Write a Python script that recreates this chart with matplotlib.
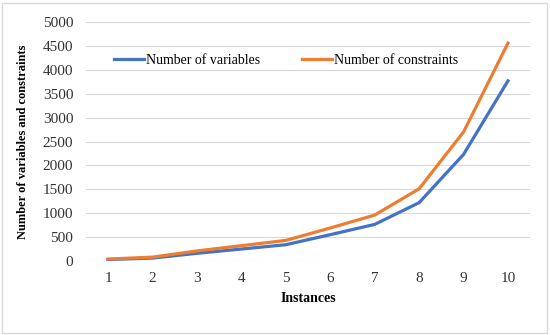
import matplotlib.pyplot as plt
from matplotlib.patches import Rectangle

plt.rcParams['font.family'] = ['Liberation Serif', 'DejaVu Serif']

instances = [1, 2, 3, 4, 5, 6, 7, 8, 9, 10]
variables = [30, 60, 160, 250, 340, 550, 765, 1220, 2230, 3770]
constraints = [40, 80, 210, 320, 430, 690, 960, 1510, 2700, 4560]

fig = plt.figure(figsize=(5.5, 3.35), dpi=100)
ax = fig.add_axes([0.156, 0.221, 0.808, 0.713])

ax.plot(instances, variables, color='#4472C4', linewidth=2.3, label='Number of variables')
ax.plot(instances, constraints, color='#ED7D31', linewidth=2.3, label='Number of constraints')

ax.set_xlim(0.5, 10.5)
ax.set_ylim(0, 5000)
ax.set_xticks(instances)
ax.set_yticks(range(0, 5001, 500))
ax.grid(axis='y', color='#D9D9D9', linewidth=0.8)
ax.set_axisbelow(True)
for s in ax.spines.values():
    s.set_visible(False)
ax.tick_params(length=0, labelsize=11, colors='#333333')
ax.tick_params(axis='x', pad=8)
ax.tick_params(axis='y', pad=9)

ax.set_xlabel('Instances', fontsize=10, fontweight='bold', labelpad=5)
ax.set_ylabel('Number of variables and constraints', fontsize=9, fontweight='bold', labelpad=10)

ax.legend(loc='center', bbox_to_anchor=(0.45, 0.84), ncol=2, frameon=False,
          fontsize=10, handlelength=2.2, handletextpad=0.1, columnspacing=3.0)

fig.patches.append(Rectangle((0.004, 0.006), 0.99, 0.985, transform=fig.transFigure,
                             fill=False, edgecolor='#D9D9D9', linewidth=1))

fig.savefig('out.png', dpi=100)
